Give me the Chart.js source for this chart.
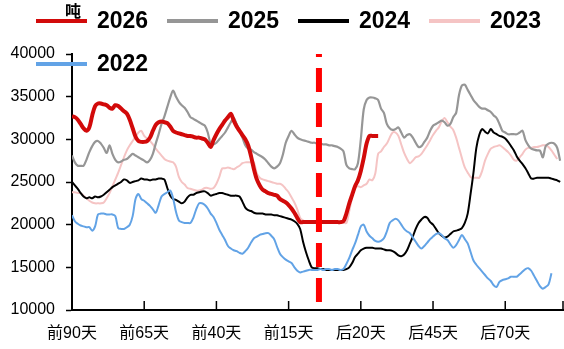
<!DOCTYPE html>
<html>
<head>
<meta charset="utf-8">
<script src="https://cdn.jsdelivr.net/npm/chart.js@4.4.0/dist/chart.umd.min.js"></script>
<style>
  html, body { margin: 0; padding: 0; background: #fff; }
  #wrap { width: 564px; height: 349px; }
</style>
</head>
<body>
<div id="wrap"><canvas id="stock"></canvas></div>
<script>
// x-axis tick labels, one every 25 points
const tickLabels = ['前90天', '前65天', '前40天', '前15天', '后20天', '后45天', '后70天'];
const tickEvery = 25;
const xMax = 170;
const festivalIndex = 85.5;

const years = ['2026', '2025', '2024', '2023', '2022'];

const s2026 = [
  32700, 32600, 32300, 31800, 31300, 31000, 31400, 32800, 33900, 34200,
  34200, 34100, 34000, 33700, 33600, 34000, 33900, 33600, 33300, 33000,
  32300, 31300, 30300, 29800, 29700, 29700, 29800, 30200, 31000, 31700,
  32000, 32100, 32000, 31900, 31500, 31000, 30800, 30700, 30600, 30500,
  30400, 30400, 30300, 30200, 30200, 30100, 30000, 29600, 29100, 29900,
  30600, 31200, 31700, 32200, 32600, 33000, 32200, 31500, 31000, 30500,
  30000, 29300, 28000, 26500, 25300, 24600, 24100, 23900, 23700, 23600,
  23500, 23400, 23000, 22800, 22600, 22300, 21900, 21400, 20800, 20300,
  20300, 20300, 20300, 20300, 20300, 20300, 20300, 20300, 20300, 20300,
  20300, 20300, 20300, 20300, 20400, 21300, 22500, 23500, 24500, 25200,
  26300, 27800, 29500, 30400, 30400, 30400, 30400
];

const s2025 = [
  28100, 27300, 26900, 26900, 26900, 27600, 28500, 29200, 29700, 29800,
  29500, 29000, 28400, 29300, 28300, 27600, 27300, 27400, 27600, 27700,
  28000, 28300, 28100, 27900, 27700, 27500, 27300, 27600, 28300, 29500,
  30600, 31800, 32700, 33800, 34900, 35700, 35000, 34400, 34000, 33700,
  33200, 32600, 32400, 32200, 32000, 31800, 31600, 30800, 29500, 29400,
  29600, 30000, 30400, 30800, 31400, 32000, 32500, 31800, 31000, 30200,
  29300, 28900, 28800, 28500, 28300, 28100, 27900, 27600, 27200, 26800,
  26600, 26800, 27200, 28200, 29600, 30400, 31000, 30600, 30200, 30000,
  29900, 29800, 29700, 29600, 29600, 29500, 29500, 29400, 29400, 29300,
  29300, 29200, 29100, 28900, 28600, 27000, 26600, 26500, 26500, 27200,
  30000, 33500, 34600, 34900, 34900, 34800, 34600, 33600, 33100, 31800,
  31300, 31100, 31200, 31400, 30800, 30200, 30500, 30600, 30200, 29600,
  29100, 29200, 29700, 30200, 31000, 31600, 31800, 32000, 32200, 32000,
  31600, 31800, 32600, 33100, 35200, 36300, 36400, 35800, 35200, 34600,
  34200, 33800, 33600, 33600, 33400, 33200, 32800, 32500, 31800, 31000,
  30800, 30600, 30600, 30600, 30600, 30800, 31000, 29900, 29300, 28900,
  28800, 28700, 28700, 27900, 29200, 29500, 29600, 29500, 29000, 27500
];

const s2024 = [
  25000, 24600, 24200, 23700, 23300, 23100, 23200, 23100, 23300, 23200,
  23300, 23500, 23800, 24100, 24400, 24600, 24800, 25000, 25300, 25200,
  24900, 25000, 25100, 25200, 25400, 25300, 25300, 25200, 25300, 25300,
  25400, 25400, 25300, 24300, 23400, 23000, 22900, 22700, 22500, 22700,
  23200, 23500, 23500, 23700, 23800, 23900, 23900, 23700, 23400, 23500,
  23600, 23700, 23700, 23600, 23500, 23400, 23400, 23400, 23300, 22700,
  22000, 21700, 21600, 21400, 21300, 21300, 21300, 21200, 21200, 21200,
  21100, 21100, 21000, 20900, 20800, 20700, 20600, 20400, 20100, 19500,
  18000, 16800, 15800, 15000, 14900, 14900, 14800, 14800, 14700, 14700,
  14700, 14700, 14700, 14700, 14700, 14800, 15000, 15500, 16200, 16600,
  17000, 17200, 17300, 17300, 17300, 17200, 17200, 17200, 17100, 17000,
  17000, 16900, 16700, 16400, 16300, 16500, 17000, 17800, 18600, 19500,
  20200, 20600, 20900, 20800, 20300, 20000, 19500, 19000, 18700, 18500,
  18600, 18900, 19200, 19300, 19400, 19600, 20200, 21300, 23600, 26100,
  29000, 30500, 31200, 30900, 30700, 31200, 30800, 30600, 30400, 30300,
  30100, 29700, 29200, 28700, 28000, 27500, 27100, 26600, 26000, 25400,
  25400, 25500, 25500, 25500, 25500, 25500, 25400, 25300, 25200, 25000
];

const s2023 = [
  23800, 23800, 23700, 23700, 23400, 23100, 22800, 22600, 22500, 22500,
  22500, 22600, 23100, 23700, 24500, 25300, 26100, 27000, 27900, 28700,
  29300, 29800, 30300, 30800, 31000, 30400, 30100, 29800, 29400, 28900,
  28500, 28100, 27700, 27500, 27400, 27300, 26800, 25600, 25000, 24700,
  24300, 24200, 24100, 24000, 24000, 24100, 24300, 24300, 24200, 24300,
  24800, 25600, 26600, 26600, 26700, 26600, 26500, 26700, 26900, 27200,
  27300, 27300, 27300, 27300, 26000, 25500, 25300, 25200, 25100, 25000,
  24900, 24800, 24800, 24600, 24200, 23800, 23200, 22600, 21800, 20800,
  20500, 20300, 20200, 20200, 20200, 20200, 20200, 20200, 20200, 20200,
  20200, 20200, 20200, 20200, 20200, 20200, 21600, 23200, 24400, 24500,
  24400, 24600, 24800, 25300, 25200, 26000, 28300, 28600, 29100, 29500,
  30200, 30800, 30800, 30400, 29400, 28400, 27700, 27200, 27500, 27900,
  28000, 28300, 28800, 29300, 29900, 30500, 31000, 31400, 32100, 32500,
  32000, 31500, 31100, 30200, 29000, 27800, 26700, 26100, 25600, 25500,
  25500, 25500, 26300, 27500, 28300, 28900, 29100, 29200, 29300, 29100,
  28800, 28500, 28100, 27600, 27500, 27900, 28300, 28800, 29000, 29000,
  29100, 29100, 29200, 29300, 29300, 29100, 28700, 28200, 27700
];

const s2022 = [
  21100, 20400, 20100, 19900, 19800, 19700, 19700, 19300, 19800, 21200,
  21300, 21300, 21200, 21200, 21200, 21000, 19600, 19500, 19500, 19700,
  20000, 21000, 23000, 23600, 23000, 22800, 22500, 22200, 21800, 21400,
  22300, 23300, 23600, 23800, 24000, 23100, 21500, 20500, 20300, 20200,
  20200, 20200, 20800, 21800, 22500, 22500, 22300, 21900, 21300, 20900,
  20200, 19400, 18800, 18200, 17500, 17200, 17000, 16900, 16700, 16600,
  16900, 17300, 17900, 18400, 18600, 18800, 18900, 19000, 19000, 18700,
  18300, 17400, 16600, 16200, 15900, 15700, 15500, 15000, 14600, 14400,
  14500, 14600, 14700, 14700, 14700, 14700, 14800, 14700, 14800, 14800,
  14700, 14800, 14800, 14700, 14800, 15400, 16100, 17000, 17800, 18800,
  19800, 20000, 19200, 18700, 18400, 18100, 18000, 18100, 18400, 19200,
  20200, 20500, 20700, 20500, 20000, 19500, 19200, 19000, 18500, 18000,
  17500, 17200, 17500, 17900, 18300, 18600, 18900, 19000, 18800, 18400,
  18200, 17700, 17300, 17600, 18200, 18800, 18300, 17800, 16800, 15800,
  15300, 14900, 14500, 14100, 13700, 13400, 12900, 12700, 13300, 13500,
  13600, 13700, 13900, 13900, 13900, 14200, 14500, 14800, 14900, 14600,
  14000, 13400, 12800, 12500, 12700, 13000, 14300
];

const toPoints = arr => arr.map((v, i) => ({ x: i, y: v }));

const FONT = '"Liberation Sans", Arial, "Noto Sans CJK SC", sans-serif';

// legend is drawn by hand so it can sit over the top of the plot
const keyPlugin = {
  id: 'yearKey',
  afterDraw(chart) {
    const ctx = chart.ctx;
    ctx.save();
    const rows = [21, 64];
    chart.data.datasets.forEach((ds, k) => {
      if (!ds.label) return;
      const row = Math.floor(k / 4);
      const x0 = 36 + (k % 4) * 131;
      const y = rows[row];
      ctx.strokeStyle = ds.borderColor;
      ctx.lineWidth = 4;
      ctx.beginPath();
      ctx.moveTo(x0, y);
      ctx.lineTo(x0 + 51, y);
      ctx.stroke();
      ctx.fillStyle = '#000';
      ctx.font = 'bold 23px ' + FONT;
      ctx.textBaseline = 'middle';
      ctx.textAlign = 'left';
      ctx.fillText(ds.label, x0 + 61, y + 1);
    });
    // unit
    ctx.font = 'bold 16px ' + FONT;
    ctx.textAlign = 'center';
    ctx.fillText('吨', 73, 13);
    ctx.restore();
  }
};

// x tick marks point up into the plot
const innerTicks = {
  id: 'innerTicks',
  afterDatasetsDraw(chart) {
    const sx = chart.scales.x;
    const bottom = chart.chartArea.bottom;
    const ctx = chart.ctx;
    ctx.save();
    ctx.strokeStyle = '#000';
    ctx.lineWidth = 1.5;
    const marks = sx.ticks.map(t => t.value).filter(v => v > 0);
    if (!marks.includes(xMax)) marks.push(xMax);
    marks.forEach(v => {
      const px = sx.getPixelForValue(v);
      ctx.beginPath();
      ctx.moveTo(px, bottom);
      ctx.lineTo(px, bottom - 9);
      ctx.stroke();
    });
    ctx.restore();
  }
};

const lineSet = (label, arr, color, width, order) => ({
  label,
  data: toPoints(arr),
  borderColor: color,
  backgroundColor: color,
  borderWidth: width,
  pointRadius: 0,
  tension: 0.3,
  fill: false,
  order
});

new Chart(document.getElementById('stock'), {
  type: 'line',
  data: {
    datasets: [
      lineSet(years[0], s2026, '#D20A0A', 4, 1),
      lineSet(years[1], s2025, '#969696', 2.2, 4),
      lineSet(years[2], s2024, '#000000', 2, 3),
      lineSet(years[3], s2023, '#F5C4C4', 2, 5),
      lineSet(years[4], s2022, '#62A3E6', 2, 2),
      {
        data: [{ x: festivalIndex, y: 40000 }, { x: festivalIndex, y: 10000 }],
        borderColor: '#FF0000',
        borderWidth: 6,
        borderDash: [24, 11],
        borderDashOffset: 21,
        pointRadius: 0,
        fill: false,
        order: 0
      }
    ]
  },
  options: {
    responsive: true,
    maintainAspectRatio: false,
    animation: false,
    layout: { padding: { top: 54, right: 1, left: 0, bottom: 0 } },
    plugins: {
      legend: { display: false },
      tooltip: { enabled: false }
    },
    scales: {
      x: {
        type: 'linear',
        min: 0,
        max: xMax,
        grid: { display: false, drawTicks: false },
        border: { display: true, color: '#000', width: 2 },
        ticks: {
          stepSize: tickEvery,
          autoSkip: false,
          maxRotation: 0,
          padding: 14,
          color: '#000',
          font: { family: FONT, size: 16 },
          callback: v => (v % tickEvery === 0 ? tickLabels[v / tickEvery] || '' : '')
        },
        afterFit: s => {
          s.height = 39;
          s.paddingLeft = 0;
          s.paddingRight = 0;
        }
      },
      y: {
        min: 10000,
        max: 40000,
        grid: {
          drawOnChartArea: false,
          drawTicks: true,
          tickLength: 6,
          tickColor: '#000',
          tickWidth: 1.5
        },
        border: { display: true, color: '#000', width: 2 },
        ticks: {
          stepSize: 5000,
          padding: 11,
          color: '#000',
          font: { family: FONT, size: 16 },
          callback: v => String(v)
        },
        afterFit: s => { s.width = 72; }
      }
    }
  },
  plugins: [keyPlugin, innerTicks]
});
</script>
</body>
</html>
